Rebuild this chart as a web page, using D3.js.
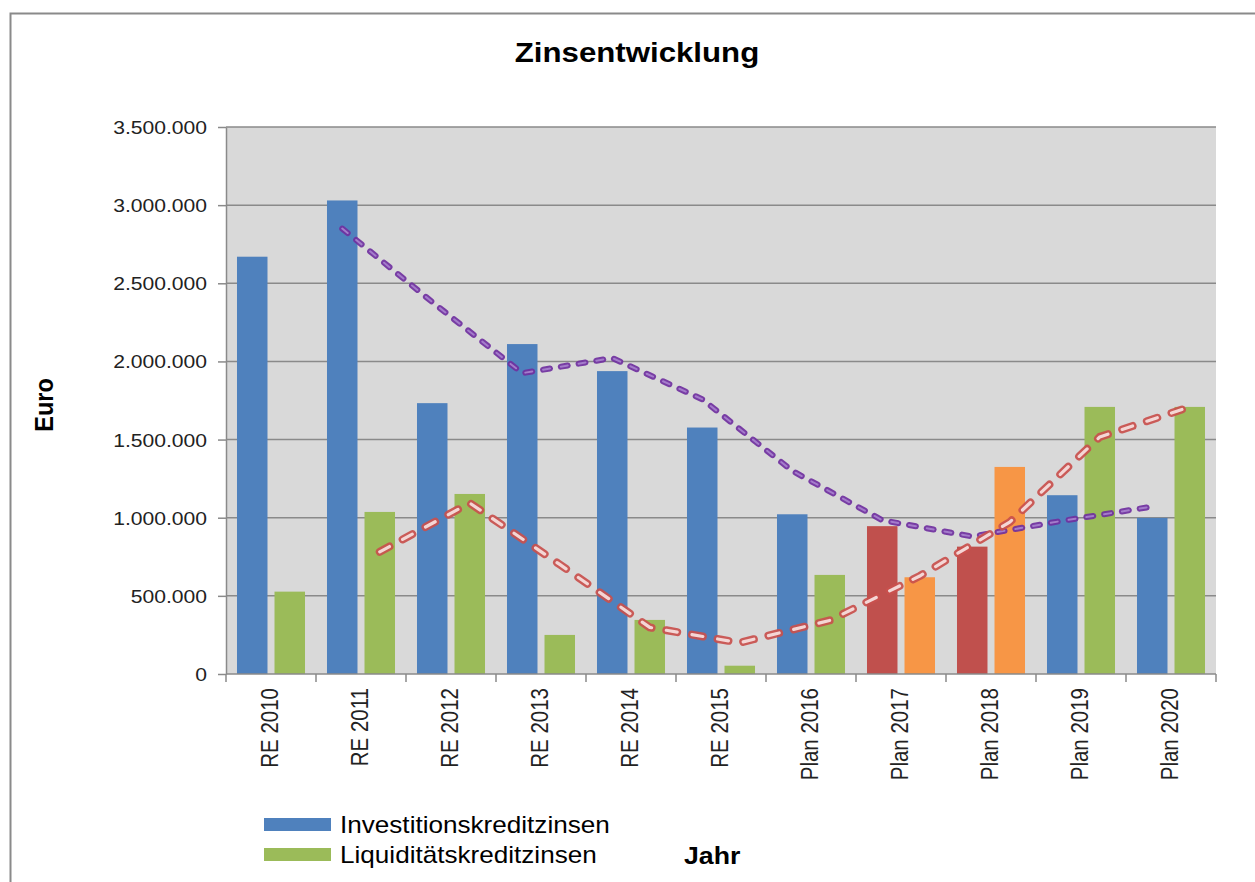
<!DOCTYPE html>
<html>
<head>
<meta charset="utf-8">
<script src="https://cdn.jsdelivr.net/npm/d3@7"></script>
<style>
  body { margin: 0; background: #fff; }
  svg { display: block; font-family: "Liberation Sans", Arial, sans-serif; }
</style>
</head>
<body>
<script>
// Daten
const categories = ["RE 2010", "RE 2011", "RE 2012", "RE 2013", "RE 2014", "RE 2015",
  "Plan 2016", "Plan 2017", "Plan 2018", "Plan 2019", "Plan 2020"];
const seriesNames = ["Investitionskreditzinsen", "Liquiditätskreditzinsen"];
const investitionskreditzinsen = [2670000, 3030000, 1733000, 2111000, 1938000, 1577000,
  1022000, 946000, 815000, 1144000, 999000];
const liquiditaetskreditzinsen = [527000, 1037000, 1152000, 250000, 346000, 53000,
  634000, 619000, 1325000, 1709000, 1709000];
// gleitender Durchschnitt (Trendlinien), ab RE 2011
const trendCategories = categories.slice(1);
const trendInvestition = [2850000, 2380000, 1925000, 2022000, 1758000, 1300000,
  984000, 880000, 980000, 1071000];
const trendLiquiditaet = [782000, 1094000, 701000, 298000, 200000, 343000,
  627000, 972000, 1517000, 1709000];
const yTicks = [0, 500000, 1000000, 1500000, 2000000, 2500000, 3000000, 3500000];

const width = 1255;
const height = 882;
const sx = 1.135; // horizontale Streckung der Schrift

const colors = { blue: "#4F81BD", green: "#9BBB59", red: "#C0504D", orange: "#F79646" };
const highlighted = ["Plan 2017", "Plan 2018"];

const de = d3.formatLocale({ decimal: ",", thousands: ".", grouping: [3], currency: ["", " €"] });
const fmt = de.format(",.0f");

const svg = d3.select("body").append("svg")
  .attr("width", width)
  .attr("height", height);

// Rahmen
svg.append("rect")
  .attr("x", 10.5).attr("y", 13.5)
  .attr("width", 1270).attr("height", 900)
  .attr("fill", "none")
  .attr("stroke", "#8a8a8a")
  .attr("stroke-width", 2);

const x0 = d3.scaleBand().domain(categories).range([226, 1216]).padding(0);
const x1 = d3.scaleBand().domain(seriesNames).range([0, x0.bandwidth()])
  .paddingInner(0.187).paddingOuter(0.293);
const y = d3.scaleLinear().domain([0, 3500000]).range([674, 127]);

// Plotfläche
svg.append("rect")
  .attr("x", x0.range()[0]).attr("y", y(3500000))
  .attr("width", x0.range()[1] - x0.range()[0])
  .attr("height", y(0) - y(3500000))
  .attr("fill", "#D9D9D9");

// Gitterlinien
svg.append("g")
  .selectAll("line")
  .data(yTicks.filter(d => d > 0))
  .join("line")
  .attr("x1", x0.range()[0]).attr("x2", x0.range()[1])
  .attr("y1", d => y(d)).attr("y2", d => y(d))
  .attr("stroke", "#8a8a8a")
  .attr("stroke-width", 1.5);

// Balken
const rows = categories.map((c, i) => ({
  cat: c,
  values: [
    { key: seriesNames[0], v: investitionskreditzinsen[i] },
    { key: seriesNames[1], v: liquiditaetskreditzinsen[i] }
  ]
}));

function barColor(d, cat) {
  const hi = highlighted.includes(cat);
  if (d.key === seriesNames[0]) return hi ? colors.red : colors.blue;
  return hi ? colors.orange : colors.green;
}

svg.append("g")
  .selectAll("g")
  .data(rows)
  .join("g")
  .attr("transform", d => `translate(${x0(d.cat)},0)`)
  .each(function (row) {
    d3.select(this).selectAll("rect")
      .data(row.values)
      .join("rect")
      .attr("x", d => x1(d.key))
      .attr("y", d => y(d.v))
      .attr("width", x1.bandwidth())
      .attr("height", d => y(0) - y(d.v))
      .attr("fill", d => barColor(d, row.cat));
  });

// Achsen
const yAxis = d3.axisLeft(y).tickValues(yTicks).tickFormat(fmt).tickSize(8).tickSizeOuter(0);
const gy = svg.append("g").attr("transform", `translate(${x0.range()[0]},0)`).call(yAxis);
gy.select(".domain").attr("stroke", "#8a8a8a").attr("stroke-width", 1.5);
gy.selectAll(".tick line").attr("stroke", "#8a8a8a").attr("stroke-width", 1.5);
gy.selectAll(".tick text")
  .attr("x", null).attr("dy", null)
  .attr("font-size", 18.6)
  .attr("fill", "#222")
  .attr("text-anchor", "end")
  .attr("dominant-baseline", "central")
  .attr("transform", `translate(-19,0) scale(${sx},1)`);

const gx = svg.append("g");
gx.append("line")
  .attr("x1", x0.range()[0]).attr("x2", x0.range()[1])
  .attr("y1", y(0)).attr("y2", y(0))
  .attr("stroke", "#8a8a8a").attr("stroke-width", 1.5);
gx.selectAll("line.tk")
  .data(categories.map(c => x0(c)).concat([x0.range()[1]]))
  .join("line")
  .attr("class", "tk")
  .attr("x1", d => d).attr("x2", d => d)
  .attr("y1", y(0)).attr("y2", y(0) + 8)
  .attr("stroke", "#8a8a8a").attr("stroke-width", 1.5);
gx.selectAll("text")
  .data(categories)
  .join("text")
  .attr("transform", d => `translate(${x0(d) + x0.bandwidth() / 2 - 1},${y(0) + 14}) scale(${sx},1) rotate(-90)`)
  .attr("text-anchor", "end")
  .attr("dy", "0.35em")
  .attr("font-size", 20.5)
  .attr("fill", "#222")
  .text(d => d);

// Trendlinien (gleitender Durchschnitt)
function trendPath(values, key) {
  return d3.line()
    .x((d, i) => x0(trendCategories[i]) + x1(key) + x1.bandwidth() / 2)
    .y(d => y(d))(values);
}

const trends = [
  { values: trendInvestition, key: seriesNames[0], outer: "#7030A0", inner: "#A47CCB", w: 6, wi: 2, dash: "7,11" },
  { values: trendLiquiditaet, key: seriesNames[1], outer: "#C9504D", inner: "#F4D6D5", w: 8, wi: 3.2, dash: "11,15" }
];

trends.forEach(t => {
  const p = trendPath(t.values, t.key);
  svg.append("path")
    .attr("d", p)
    .attr("fill", "none")
    .attr("stroke", t.outer)
    .attr("stroke-opacity", 0.92)
    .attr("stroke-width", t.w)
    .attr("stroke-linecap", "round")
    .attr("stroke-linejoin", "round")
    .attr("stroke-dasharray", t.dash);
  svg.append("path")
    .attr("d", p)
    .attr("fill", "none")
    .attr("stroke", t.inner)
    .attr("stroke-width", t.wi)
    .attr("stroke-linecap", "round")
    .attr("stroke-linejoin", "round")
    .attr("stroke-dasharray", t.dash);
});

// Titel und Achsentitel
svg.append("text")
  .attr("transform", `translate(637,62) scale(${sx},1)`)
  .attr("text-anchor", "middle")
  .attr("font-size", 27.5)
  .attr("font-weight", "bold")
  .attr("fill", "#000")
  .text("Zinsentwicklung");

svg.append("text")
  .attr("transform", `translate(53,405) scale(${sx},1) rotate(-90)`)
  .attr("text-anchor", "middle")
  .attr("font-size", 23.5)
  .attr("font-weight", "bold")
  .attr("fill", "#000")
  .text("Euro");

svg.append("text")
  .attr("transform", `translate(684,864) scale(${sx},1)`)
  .attr("font-size", 23.5)
  .attr("font-weight", "bold")
  .attr("fill", "#000")
  .text("Jahr");

// Legende
const legend = svg.append("g")
  .selectAll("g")
  .data(seriesNames)
  .join("g")
  .attr("transform", (d, i) => `translate(264,${818 + i * 30})`);
legend.append("rect")
  .attr("width", 67).attr("height", 13)
  .attr("fill", (d, i) => i === 0 ? colors.blue : colors.green);
legend.append("text")
  .attr("transform", `translate(76,15) scale(${sx},1)`)
  .attr("font-size", 23)
  .attr("fill", "#000")
  .text(d => d);
</script>
</body>
</html>
